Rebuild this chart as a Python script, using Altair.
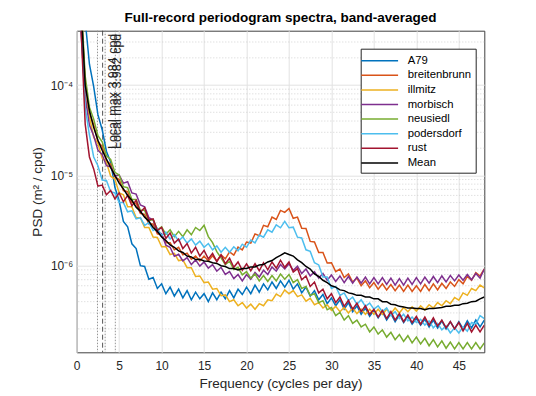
import altair as alt
import pandas as pd

FONT = "Liberation Sans, Arial, Helvetica, sans-serif"

# frequency grid (cycles per day), 0.5 cpd band averages
freq = [round(0.5 * (i + 1), 2) for i in range(96)]

series_names = ["A79", "breitenbrunn", "illmitz", "morbisch", "neusiedl",
                "podersdorf", "rust", "Mean"]
series_colors = ["#0072BD", "#D95319", "#EDB120", "#7E2F8E", "#77AC30",
                 "#4DBEEE", "#A2142F", "#000000"]

# PSD values in units of 1e-7 m^2/cpd
a79 = [20000, 5200, 1700, 960, 470, 320, 185, 140, 74, 52,
       31, 27, 17.5, 15.5, 10, 9.8, 7.1, 7.4, 5.6, 6.3,
       4.9, 5.8, 4.6, 5.5, 4.4, 5.3, 4.2, 5.1, 4.3, 4.9,
       4.0, 5.0, 4.2, 5.1, 4.3, 5.3, 4.4, 5.5, 4.8, 5.8,
       4.9, 6.1, 5.1, 6.3, 5.4, 6.6, 5.6, 6.8, 5.8, 6.9,
       5.5, 6.3, 5.0, 5.8, 4.6, 5.3, 4.2, 4.8, 3.8, 4.4,
       3.6, 4.2, 3.3, 3.9, 3.1, 3.6, 2.9, 3.4, 2.75, 3.2,
       2.65, 3.1, 2.5, 2.95, 2.4, 2.85, 2.35, 2.75, 2.25, 2.6,
       2.2, 2.55, 2.1, 2.5, 2.05, 2.45, 2.0, 2.4, 2.0, 2.4,
       2.0, 2.45, 2.05, 2.5, 2.1, 2.5]
breitenbrunn = [8000, 1080, 490, 365, 235, 210, 145, 133, 96, 90,
                68, 66, 50, 49, 38, 37, 29, 29, 22.5, 22,
                18, 18, 15, 16, 13.2, 13.8, 11.8, 12.8, 11.3, 12.8,
                11.3, 12.9, 11.3, 13.2, 11.9, 14.2, 13.1, 16.1, 15, 18.3,
                17.8, 22.5, 21.5, 28, 27, 34.5, 32.5, 41, 39, 43,
                33.5, 34.5, 26, 25.8, 18.6, 18.3, 14, 14, 10.7, 10.8,
                8.6, 9.2, 7.4, 8.1, 6.6, 7.3, 6.0, 6.8, 5.7, 6.5,
                5.5, 6.3, 5.4, 6.2, 5.3, 6.1, 5.2, 6.1, 5.2, 6.0,
                5.2, 6.2, 5.3, 6.3, 5.4, 6.4, 5.6, 6.6, 5.9, 7.0,
                6.3, 7.6, 6.9, 8.4, 7.7, 9.2]
illmitz = [6000, 760, 450, 265, 225, 155, 140, 98, 91, 64,
           61, 45, 45, 34, 34, 26.5, 26.5, 20.8, 20.5, 16.2,
           16.3, 13.3, 13.7, 11.4, 11.6, 9.5, 9.5, 7.6, 7.7, 6.5,
           6.6, 5.5, 5.6, 4.65, 4.75, 4.0, 4.2, 3.6, 3.9, 3.4,
           3.75, 3.3, 3.8, 3.6, 4.2, 4.1, 4.85, 4.55, 5.4, 4.9,
           5.3, 4.55, 4.75, 4.05, 4.35, 3.7, 3.9, 3.4, 3.7, 3.2,
           3.55, 3.1, 3.45, 3.0, 3.4, 2.95, 3.3, 2.9, 3.3, 2.9,
           3.3, 2.9, 3.3, 2.95, 3.4, 3.0, 3.45, 3.1, 3.5, 3.15,
           3.6, 3.25, 3.7, 3.4, 3.9, 3.6, 4.1, 3.8, 4.45, 4.15,
           5.0, 4.7, 5.6, 5.3, 6.1, 5.7]
morbisch = [4000, 740, 360, 275, 190, 170, 128, 125, 99, 101,
            82, 85, 64, 62, 47, 45, 34, 32, 23.5, 22.5,
            16.9, 16, 12.7, 13.4, 11.3, 12.3, 10.3, 11.6, 9.9, 11,
            9.4, 10.3, 8.7, 9.6, 8.0, 8.6, 7.2, 8.0, 6.8, 8.0,
            7.1, 8.4, 7.5, 8.9, 8.0, 9.7, 8.7, 10.3, 9.2, 10.5,
            8.9, 9.9, 8.2, 9.2, 7.7, 8.6, 7.3, 8.2, 6.9, 7.9,
            6.7, 7.7, 6.5, 7.6, 6.4, 7.5, 6.4, 7.5, 6.3, 7.4,
            6.3, 7.4, 6.2, 7.3, 6.1, 7.2, 6.1, 7.3, 6.2, 7.4,
            6.3, 7.5, 6.4, 7.6, 6.5, 7.7, 6.6, 7.8, 6.8, 7.9,
            6.9, 8.0, 7.0, 8.2, 7.3, 9.2]
neusiedl = [9000, 1260, 570, 420, 275, 235, 165, 150, 108, 101,
            75, 73, 54, 54, 41, 41, 31.5, 32.5, 25, 27,
            22.3, 25, 21, 24, 21, 25, 22, 26.5, 24.5, 28,
            21, 18, 14.3, 12.2, 10.3, 11.2, 9.1, 9.6, 7.9, 8.6,
            7.3, 8.1, 6.8, 7.8, 6.7, 7.8, 6.8, 8.1, 7.1, 8.0,
            6.5, 7.0, 5.6, 5.9, 4.7, 4.9, 3.9, 4.1, 3.25, 3.45,
            2.8, 3.05, 2.5, 2.8, 2.3, 2.5, 2.1, 2.25, 1.85, 2.1,
            1.75, 1.95, 1.62, 1.83, 1.52, 1.73, 1.45, 1.68, 1.4, 1.62,
            1.36, 1.57, 1.3, 1.52, 1.26, 1.47, 1.22, 1.43, 1.2, 1.41,
            1.2, 1.41, 1.2, 1.41, 1.2, 1.4]
podersdorf = [5000, 570, 280, 160, 128, 89, 88, 66, 64, 50,
              50, 39.5, 40.5, 33, 34, 28, 30, 24.5, 26, 21.6,
              23.5, 19.7, 22, 18.8, 20.8, 17.8, 19.8, 16.9, 18.7, 16,
              17.6, 15, 16.6, 14.1, 16, 14.1, 16.2, 14.6, 17.3, 16,
              19.2, 17.9, 21.9, 20.7, 25, 23.5, 28.3, 26.3, 31, 26.3,
              26.7, 20.7, 20.3, 15, 14.4, 10.8, 10.2, 7.5, 7.5, 5.6,
              5.9, 4.7, 5.0, 4.1, 4.5, 3.75, 4.2, 3.55, 3.85, 3.3,
              3.6, 3.1, 3.4, 2.8, 3.1, 2.6, 2.9, 2.45, 2.7, 2.35,
              2.55, 2.2, 2.45, 2.05, 2.3, 1.95, 2.15, 1.8, 2.05, 1.8,
              2.1, 1.88, 2.35, 2.25, 2.8, 2.6]
rust = [4500, 370, 160, 118, 76, 78, 61, 68, 55, 64,
        51, 60, 46, 53, 39, 44, 32, 33, 24.5, 26.5,
        20, 23, 17.8, 19.8, 15.5, 17.6, 13.8, 16, 12.8, 14.8,
        11.9, 13.7, 11.1, 13.2, 10.5, 12.1, 9.6, 11, 8.9, 10.5,
        8.8, 10.5, 8.8, 10.8, 9, 11, 9.4, 11.5, 9.6, 11,
        8.5, 9.3, 7.0, 7.7, 5.9, 6.6, 5.0, 5.5, 4.3, 4.9,
        3.9, 4.5, 3.55, 4.15, 3.3, 3.85, 3.1, 3.6, 2.9, 3.3,
        2.7, 3.2, 2.6, 3.1, 2.5, 2.95, 2.4, 2.85, 2.35, 2.75,
        2.25, 2.7, 2.2, 2.65, 2.15, 2.5, 2.05, 2.4, 2.0, 2.35,
        1.9, 2.3, 1.85, 2.2, 1.85, 2.2]
mean = [8000, 1000, 520, 340, 245, 190, 152, 122, 100, 82,
        71, 60, 53, 44.5, 40, 34.5, 31, 26.5, 24, 20.8,
        19, 17, 16, 14.6, 14, 12.8, 12.5, 11.7, 11.8, 11.3,
        11.2, 10.8, 10.6, 10, 9.8, 9.3, 9.3, 9.0, 9.3, 9.3,
        9.7, 9.7, 10.2, 10.3, 11, 11.4, 12.3, 13, 13.9, 13.3,
        12.8, 11.6, 10.8, 9.8, 9.2, 8.1, 7.6, 6.9, 6.5, 6.0,
        5.8, 5.4, 5.3, 5.0, 4.9, 4.7, 4.7, 4.5, 4.5, 4.3,
        4.3, 4.0, 4.0, 3.75, 3.7, 3.55, 3.5, 3.4, 3.4, 3.35,
        3.35, 3.25, 3.35, 3.35, 3.4, 3.45, 3.55, 3.55, 3.65, 3.65,
        3.8, 3.85, 4.0, 4.05, 4.3, 4.5]

all_values = [a79, breitenbrunn, illmitz, morbisch, neusiedl, podersdorf, rust, mean]

# marker lines and their labels
dotted_marks = [2.45, 3.35, 4.55]
dashed_marks = [3.05]
mark_labels = ["Local max 3.984 cpd", "Local max 3.982 cpd"]

# axis ticks
x_ticks = [0, 5, 10, 15, 20, 25, 30, 35, 40, 45]
y_ticks = [1e-6, 1e-5, 1e-4]
y_minor = [m * 10.0 ** e for e in (-7, -6, -5) for m in range(2, 10)] + [2e-4, 3e-4]

rows = []
for name, vals in zip(series_names, all_values):
    for f, v in zip(freq, vals):
        rows.append({"series": name, "freq": f, "psd": v * 1e-7})
df = pd.DataFrame(rows)

xscale = alt.Scale(domain=[0, 48], nice=False, zero=False)
yscale = alt.Scale(type="log", domain=[1.1e-7, 4e-4], nice=False)

xaxis = alt.Axis(values=x_ticks, title="Frequency (cycles per day)", grid=True,
                 gridColor="#e2e2e2", domain=False, ticks=False, labelPadding=8,
                 labelFlush=False, labelFont=FONT, labelFontSize=12,
                 labelColor="#262626", titleFont=FONT, titleFontSize=13.5,
                 titleFontWeight="normal", titleColor="#262626", titlePadding=5)
yaxis = alt.Axis(values=y_ticks, title="PSD (m² / cpd)", grid=True,
                 gridColor="#e2e2e2", domain=False, ticks=False, labelPadding=4,
                 labelExpr="'10' + (datum.value < 5e-6 ? '⁻⁶' : datum.value < 5e-5 ? '⁻⁵' : '⁻⁴')",
                 labelFont=FONT, labelFontSize=12, labelColor="#262626",
                 titleFont=FONT, titleFontSize=13.5, titleFontWeight="normal",
                 titleColor="#262626", titlePadding=6)

minor = alt.Chart(pd.DataFrame({"v": y_minor})).mark_rule(
    color="#c8c8c8", strokeDash=[1, 2], strokeWidth=0.8
).encode(y=alt.Y("v:Q", scale=yscale, axis=yaxis))

dotted = alt.Chart(pd.DataFrame({"f": dotted_marks})).mark_rule(
    color="#8a8a8a", strokeDash=[1.5, 1.5], strokeWidth=0.9
).encode(x=alt.X("f:Q", scale=xscale, axis=xaxis))

dashed = alt.Chart(pd.DataFrame({"f": dashed_marks})).mark_rule(
    color="#444444", strokeDash=[5, 3], strokeWidth=0.9
).encode(x=alt.X("f:Q", scale=xscale, axis=xaxis))

legend_kw = dict(orient="none", legendX=284, legendY=18, title=None,
                 fillColor="white", strokeColor="#262626",
                 padding=4, rowPadding=0.6,
                 symbolType="M-2.6,0H2.6", symbolSize=200, symbolOffset=7,
                 labelOffset=20, labelFont=FONT, labelFontSize=11.3,
                 labelColor="#000000", labelLimit=200)
color_enc = alt.Color("series:N", scale=alt.Scale(domain=series_names, range=series_colors),
                      legend=alt.Legend(**legend_kw))
width_enc = alt.StrokeWidth("series:N",
                            scale=alt.Scale(domain=series_names, range=[1.5] * 7 + [3.6]),
                            legend=alt.Legend(**legend_kw))

base = alt.Chart(df).encode(
    x=alt.X("freq:Q", scale=xscale, axis=xaxis),
    y=alt.Y("psd:Q", scale=yscale, axis=yaxis),
    color=color_enc,
    strokeWidth=width_enc,
)
lines = base.transform_filter(alt.datum.series != "Mean").mark_line(clip=True)
mean_line = base.transform_filter(alt.datum.series == "Mean").mark_line(clip=True)

txt1 = alt.Chart(pd.DataFrame({"t": [mark_labels[0]]})).mark_text(
    angle=270, align="right", baseline="middle", font=FONT, fontSize=12.5, color="#262626"
).encode(x=alt.X(datum=4.3, type="quantitative", scale=xscale), y=alt.value(3), text="t:N")
txt2 = alt.Chart(pd.DataFrame({"t": [mark_labels[1]]})).mark_text(
    angle=270, align="right", baseline="middle", font=FONT, fontSize=12.5, color="#262626"
).encode(x=alt.X(datum=4.7, type="quantitative", scale=xscale), y=alt.value(3), text="t:N")

chart = alt.layer(minor, dotted, dashed, lines, mean_line, txt1, txt2).properties(
    width=407.6, height=321.6,
    title=alt.TitleParams("Full-record periodogram spectra, band-averaged",
                          font=FONT, fontSize=13.5, fontWeight="bold", color="#000000",
                          offset=6, anchor="middle"),
    autosize="none",
    padding={"left": 76.7, "top": 30.7, "right": 51.7, "bottom": 43.7},
    background="white",
).configure_view(stroke="#404040", strokeWidth=1)

chart.save("out.html", embed_options={"renderer": "svg", "actions": False})
